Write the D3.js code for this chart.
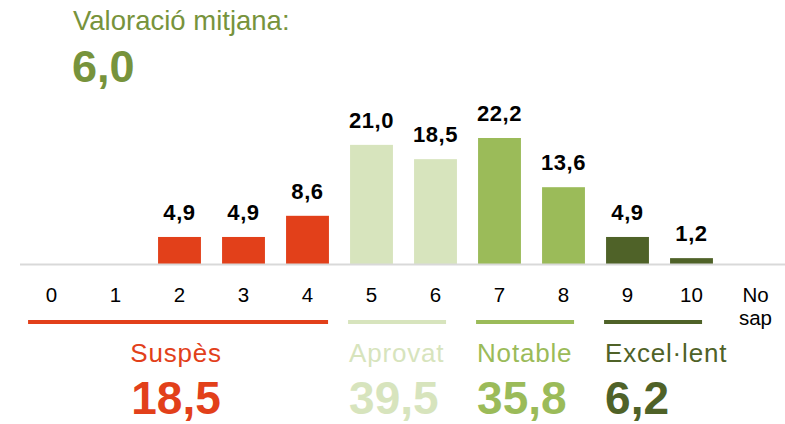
<!DOCTYPE html>
<html>
<head>
<meta charset="utf-8">
<script src="https://cdn.jsdelivr.net/npm/d3@7"></script>
<style>
  body { margin: 0; background: #fff; }
  svg { display: block; font-family: "Liberation Sans", Arial, sans-serif; }
</style>
</head>
<body>
<svg width="785" height="424"></svg>
<script>
const categories = ["0", "1", "2", "3", "4", "5", "6", "7", "8", "9", "10", "No sap"];
const values = [null, null, 4.9, 4.9, 8.6, 21.0, 18.5, 22.2, 13.6, 4.9, 1.2, null];

const groupNames = ["Suspès", "Aprovat", "Notable", "Excel·lent"];
const groupTotals = [18.5, 39.5, 35.8, 6.2];
const groupRanges = [["0", "4"], ["5", "6"], ["7", "8"], ["9", "10"]];
const groupColors = ["#E2401A", "#D7E4BD", "#9BBB59", "#4F6228"];

const meanLabel = "Valoració mitjana:";
const meanValue = 6.0;

const svg = d3.select("svg");
const fmt = v => d3.format(".1f")(v).replace(".", ",");

// colour of each category comes from the group it belongs to
const colorOf = c => {
  const i = categories.indexOf(c);
  const g = groupRanges.findIndex(r => i >= categories.indexOf(r[0]) && i <= categories.indexOf(r[1]));
  return g < 0 ? "#ccc" : groupColors[g];
};

const x = d3.scaleBand().domain(categories).range([19.5, 787.5]).paddingInner(0.33).paddingOuter(0.165);
const y = d3.scaleLinear().domain([0, 22.2]).range([265, 138]);
const baseY = 265;

// title
svg.append("text").attr("x", 73).attr("y", 30)
  .attr("font-size", 27.5).attr("fill", "#77933C").text(meanLabel);
svg.append("text").attr("x", 72).attr("y", 82)
  .attr("font-size", 45).attr("font-weight", "bold").attr("fill", "#77933C").text(fmt(meanValue));

const data = categories.map((c, i) => ({ c, v: values[i] })).filter(d => d.v != null);

// bars
svg.selectAll("rect.bar").data(data).enter().append("rect")
  .attr("class", "bar")
  .attr("x", d => x(d.c))
  .attr("width", x.bandwidth())
  .attr("y", d => y(d.v))
  .attr("height", d => baseY - y(d.v))
  .attr("fill", d => colorOf(d.c));

// value labels
svg.selectAll("text.val").data(data).enter().append("text")
  .attr("class", "val")
  .attr("x", d => x(d.c) + x.bandwidth() / 2)
  .attr("y", d => y(d.v) - 17)
  .attr("text-anchor", "middle")
  .attr("font-size", 22).attr("font-weight", "bold").attr("letter-spacing", 0.6).attr("fill", "#000")
  .text(d => fmt(d.v));

// x axis
const axis = svg.append("g").attr("transform", `translate(0,${baseY - 1})`)
  .call(d3.axisBottom(x).tickSize(0).tickSizeOuter(0));
axis.select(".domain").attr("stroke", "#D9D9D9").attr("stroke-width", 2);
axis.selectAll(".tick text")
  .attr("y", 38).attr("dy", null)
  .attr("font-size", 20.5).attr("font-family", "Liberation Sans, Arial, sans-serif").attr("fill", "#000")
  .each(function(d) {
    const words = d.split(" ");
    if (words.length > 1) {
      const t = d3.select(this).text(null);
      words.forEach((w, i) => t.append("tspan").attr("x", 0).attr("y", 38 + i * 23).text(w));
    }
  });

// group lines and totals
const step = x.step();
groupRanges.forEach((r, i) => {
  const n = categories.indexOf(r[1]) - categories.indexOf(r[0]) + 1;
  const x1 = x(r[0]) - 2;
  const w = n * step - (n > 2 ? 20 : 30);
  svg.append("line")
    .attr("x1", x1).attr("x2", x1 + w)
    .attr("y1", 322).attr("y2", 322)
    .attr("stroke", groupColors[i]).attr("stroke-width", 4);

  const tx = i === 0 ? x1 + w / 2 - 2 : x(r[0]) - 1;
  const anchor = i === 0 ? "middle" : "start";
  svg.append("text").attr("x", tx).attr("y", 362)
    .attr("text-anchor", anchor).attr("font-size", 26).attr("letter-spacing", 0.8).attr("fill", groupColors[i])
    .text(groupNames[i]);
  svg.append("text").attr("x", tx).attr("y", 414)
    .attr("text-anchor", anchor).attr("font-size", 46).attr("font-weight", "bold").attr("fill", groupColors[i])
    .text(fmt(groupTotals[i]));
});
</script>
</body>
</html>
